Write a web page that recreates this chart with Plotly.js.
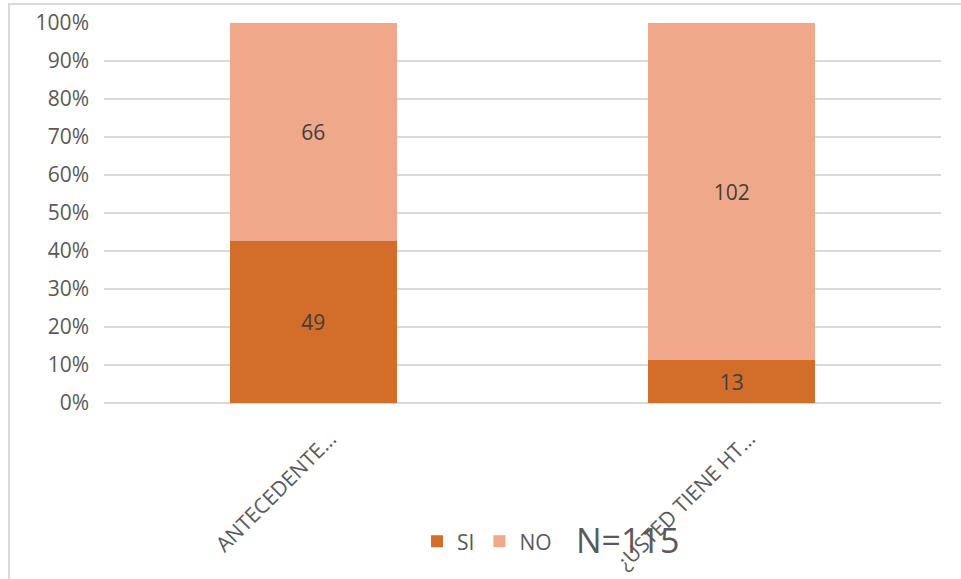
<!DOCTYPE html>
<html>
<head>
<meta charset="utf-8">
<script src="https://cdn.plot.ly/plotly-3.0.1.min.js"></script>
<style>
  html, body { margin: 0; padding: 0; background: #ffffff; }
  #wrap { position: relative; width: 961px; height: 579px; overflow: hidden; }
  #chart { width: 961px; height: 579px; }
  #frame {
    position: absolute; left: 8px; top: 3px; width: 1000px; height: 700px;
    border-left: 2px solid #d9d9d9; border-top: 2px solid #d9d9d9;
    pointer-events: none;
  }
</style>
</head>
<body>
<div id="wrap">
  <div id="chart"></div>
  <div id="frame"></div>
</div>
<script>
// Survey answers per question (counts), N = 115
const categories = ['ANTECEDENTE…', '¿USTED TIENE HT…'];
const siValues = [49, 13];
const noValues = [66, 102];
const seriesNames = ['SI', 'NO'];
const sampleLabel = 'N=115';

const FONT = '"Open Sans", "DejaVu Sans", sans-serif';
const LABEL_COLOR = '#595959';

const traces = [
  {
    type: 'bar', name: seriesNames[0], x: categories, y: siValues,
    marker: { color: '#D26D2A' },
    text: siValues, textposition: 'inside', insidetextanchor: 'middle',
    textfont: { family: FONT, size: 21, color: '#404040' },
    hoverinfo: 'skip'
  },
  {
    type: 'bar', name: seriesNames[1], x: categories, y: noValues,
    marker: { color: '#F0A88A' },
    text: noValues, textposition: 'inside', insidetextanchor: 'middle',
    textfont: { family: FONT, size: 21, color: '#404040' },
    hoverinfo: 'skip'
  }
];

// Category names are written diagonally under each bar
const catAnnotations = categories.map(c => ({
  x: c, xref: 'x', y: 0, yref: 'paper',
  text: c, showarrow: false, textangle: -45,
  xanchor: 'right', yanchor: 'top', xshift: 32, yshift: -19,
  font: { family: FONT, size: 21, color: LABEL_COLOR }
}));

const layout = {
  width: 961, height: 579,
  margin: { l: 104, r: 20, t: 23, b: 176 },
  paper_bgcolor: 'rgba(0,0,0,0)', plot_bgcolor: '#ffffff',
  barmode: 'stack', barnorm: 'fraction', bargap: 0.6,
  showlegend: true,
  legend: {
    orientation: 'h', x: 0.374, y: -0.365, xanchor: 'left', yanchor: 'middle',
    font: { family: FONT, size: 21, color: LABEL_COLOR },
    itemwidth: 30, traceorder: 'normal', bgcolor: 'rgba(0,0,0,0)'
  },
  xaxis: {
    showticklabels: false, showgrid: false, zeroline: false, showline: false,
    ticks: '', fixedrange: true
  },
  yaxis: {
    range: [0, 1], dtick: 0.1, tick0: 0, tickformat: '.0%',
    showgrid: true, gridcolor: '#d9d9d9', gridwidth: 1.3,
    zeroline: true, zerolinecolor: '#d9d9d9', zerolinewidth: 1.3,
    showline: false, ticks: '', ticklabelstandoff: 14,
    tickfont: { family: FONT, size: 21, color: LABEL_COLOR },
    fixedrange: true
  },
  annotations: catAnnotations.concat([{
    x: 0.626, y: -0.36, xref: 'paper', yref: 'paper',
    text: sampleLabel, showarrow: false, xanchor: 'center', yanchor: 'middle',
    font: { family: FONT, size: 34, color: LABEL_COLOR }
  }])
};

Plotly.newPlot('chart', traces, layout, { staticPlot: true, displayModeBar: false });
</script>
</body>
</html>
